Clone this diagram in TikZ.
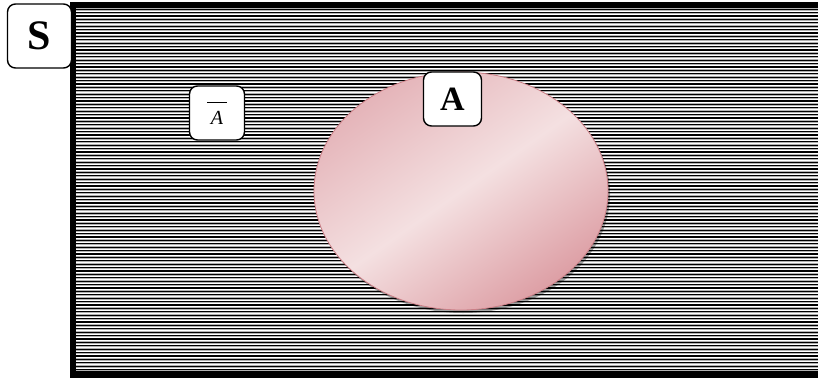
\documentclass[tikz,border=0pt]{standalone}
\usepackage{fontspec}
\setmainfont{Liberation Serif}
\usetikzlibrary{shadows,shapes.geometric}
\definecolor{pinkdark}{HTML}{D9939A}
\definecolor{pinklight}{HTML}{F4E0E1}
\definecolor{pinkedge}{HTML}{CC7F87}
\tikzset{
  labelbox/.style={draw=black, line width=1.4pt, fill=white, rounded corners=8pt, inner sep=0pt, font=\bfseries},
  stripe/.style={line width=1.1pt, black},
  hilite/.style={line width=0.7pt, white}
}
\begin{document}
\begin{tikzpicture}[x=1pt,y=-1pt]
\useasboundingbox (0,0) rectangle (818,380);
% frame and stripes
\fill[black] (70,2) rectangle (818,378);
\fill[gray!60] (76,8) rectangle (818,371);
\foreach \i in {0,...,107} {
  \draw[stripe] (76,{9.2+3.4*\i}) -- (818,{9.2+3.4*\i});
  \draw[hilite] (76,{10.9+3.4*\i}) -- (818,{10.9+3.4*\i});
}
\fill[black] (70,371) rectangle (818,378);
% set A
\node[draw=pinkedge, line width=0.8pt, ellipse, minimum width=294pt, minimum height=238pt,
  left color=pinkdark!70, right color=pinkdark!90, middle color=pinklight, shading angle=35,
  drop shadow={shadow xshift=2pt, shadow yshift=-3pt, opacity=0.35, fill=black}] (setA) at (461,191) {};
% labels
\node[labelbox, minimum width=64pt, minimum height=64pt, font=\bfseries\fontsize{42}{42}\selectfont] (S) at (39.5,36) {S};
\node[labelbox, minimum width=55pt, minimum height=54pt, font=\fontsize{20}{20}\selectfont] (Abar) at (217,113)
  {\shortstack{\rule{20pt}{1pt}\\[5pt]\textit{A}}};
\node[labelbox, minimum width=58pt, minimum height=54pt, font=\bfseries\fontsize{34}{34}\selectfont] (A) at (452.5,99) {A};
\end{tikzpicture}
\end{document}
